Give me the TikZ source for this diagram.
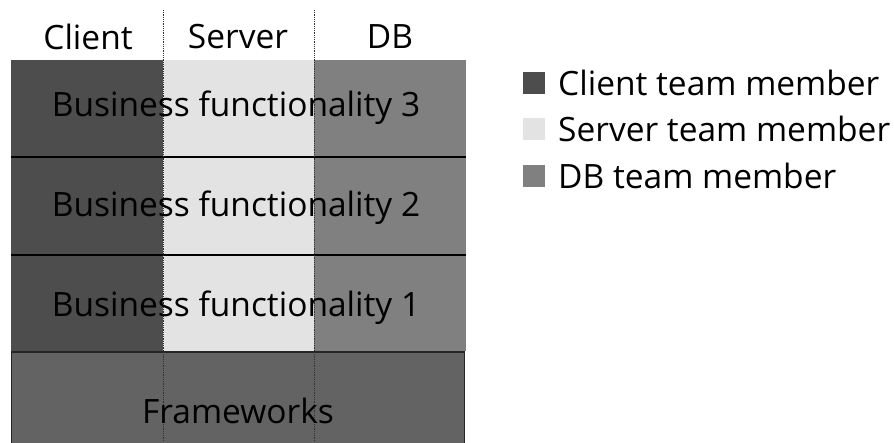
\documentclass[tikz,border=0pt]{standalone}
\usepackage{fontspec}
\setmainfont{Open Sans}
\begin{document}
\begin{tikzpicture}[x=1pt,y=-1pt,
  lbl/.style={inner sep=0pt,font=\fontsize{33.5}{40}\selectfont,text=black},
  sep/.style={line width=2.2pt,black},
  divider/.style={line width=0.8pt,densely dotted,black!80},
  legsq/.style={inner sep=0pt,minimum size=22pt,draw=none}]
\definecolor{cclient}{HTML}{4D4D4D}
\definecolor{cserver}{HTML}{E3E3E3}
\definecolor{cdb}{HTML}{808080}
\definecolor{cframe}{HTML}{636363}
\useasboundingbox (0,0) rectangle (894,442);
% columns
\fill[cclient] (11,60) rectangle (163,351);
\fill[cserver] (163,60) rectangle (314,351);
\fill[cdb] (314,60) rectangle (466,351);
% frameworks
\draw[fill=cframe,draw=black!85,line width=1.4pt] (11.5,352) rectangle (464.5,450);
% row separators
\coordinate (s1l) at (11,157); \coordinate (s1r) at (466,157);
\coordinate (s2l) at (11,255); \coordinate (s2r) at (466,255);
\draw[sep] (s1l) -- (s1r);
\draw[sep] (s2l) -- (s2r);
% dotted dividers
\coordinate (d1t) at (163,10); \coordinate (d1b) at (163,442);
\coordinate (d2t) at (314,10); \coordinate (d2b) at (314,442);
\draw[divider] (d1t) -- (d1b);
\draw[divider] (d2t) -- (d2b);
% headers
\node[lbl] (hclient) at (88,37) {Client};
\node[lbl] (hserver) at (238,37) {Server};
\node[lbl] (hdb) at (390,37) {DB};
% rows
\node[lbl] (bf3) at (236,108) {Business functionality 3};
\node[lbl] (bf2) at (236,208) {Business functionality 2};
\node[lbl] (bf1) at (236,308) {Business functionality 1};
\node[lbl] (fw) at (238,411) {Frameworks};
% legend
\node[legsq,fill=cclient] (lq1) at (534,83) {};
\node[legsq,fill=cserver] (lq2) at (534,129) {};
\node[legsq,fill=cdb] (lq3) at (534,176) {};
\node[lbl,anchor=west] (lt1) at (558,83) {Client team member};
\node[lbl,anchor=west] (lt2) at (558,129) {Server team member};
\node[lbl,anchor=west] (lt3) at (558,176) {DB team member};
\end{tikzpicture}
\end{document}
